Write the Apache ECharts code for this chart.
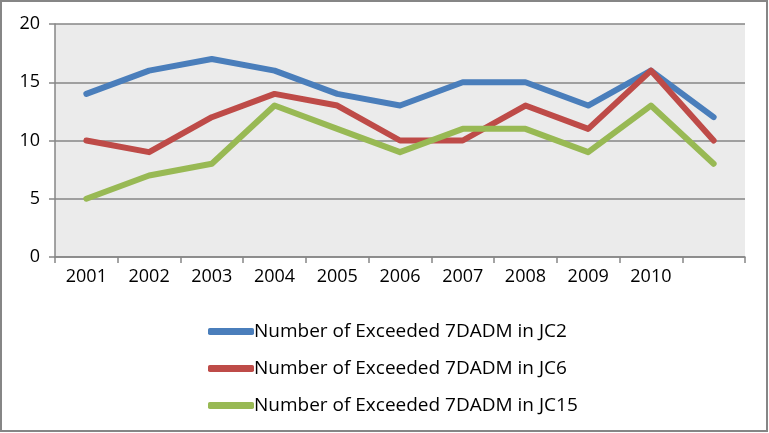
<!DOCTYPE html>
<html><head><meta charset="utf-8">
<script src="https://cdn.jsdelivr.net/npm/echarts@6/dist/echarts.min.js"></script>
<style>html,body{margin:0;padding:0;background:#fff}#c{width:769px;height:433px}</style>
</head><body><div id="c"></div>
<script>
const categories = ['2001','2002','2003','2004','2005','2006','2007','2008','2009','2010',''];
const jc2 = [14,16,17,16,14,13,15,15,13,16,12];
const jc6 = [10,9,12,14,13,10,10,13,11,16,10];
const jc15 = [5,7,8,13,11,9,11,11,9,13,8];
const seriesNames = ['Number of Exceeded 7DADM in JC2','Number of Exceeded 7DADM in JC6','Number of Exceeded 7DADM in JC15'];
const yTicks = [0,5,10,15,20];
const colors = ['#4a7ebb','#be4b48','#98b954'];
const font = '"Open Sans", sans-serif';

const chart = echarts.init(document.getElementById('c'));
const mk = (name, data, i) => ({
  name, type:'line', data, symbol:'none', smooth:false,
  lineStyle:{width:6, color:colors[i], cap:'round', join:'round'},
  itemStyle:{color:colors[i]}
});
chart.setOption({
  animation:false,
  graphic:[{type:'rect', shape:{x:1,y:1,width:766,height:430}, style:{fill:'none', stroke:'#868686', lineWidth:2}, z:100}],
  grid:{left:55,right:24,top:24,bottom:176,show:true,backgroundColor:'#ebebeb',borderWidth:0},
  xAxis:{type:'category', data:categories, boundaryGap:true,
    axisLine:{show:true,lineStyle:{color:'#868686',width:1.5}},
    axisTick:{show:true,length:6,lineStyle:{color:'#868686',width:1.5}},
    axisLabel:{color:'#000',fontSize:18,fontFamily:font,margin:11},
    splitLine:{show:false}},
  yAxis:{type:'value', min:yTicks[0], max:yTicks[yTicks.length-1], interval:5,
    axisLine:{show:true,lineStyle:{color:'#868686',width:1.5}},
    axisTick:{show:true,length:6,lineStyle:{color:'#868686',width:1.5}},
    axisLabel:{color:'#000',fontSize:18,fontFamily:font,margin:15},
    splitLine:{show:true,lineStyle:{color:'#868686',width:1.5}}},
  legend:{orient:'vertical', left:203, top:317, itemWidth:46, itemHeight:7, itemGap:18,
    icon:'roundRect', textStyle:{fontSize:19,fontFamily:font,color:'#000',padding:[0,0,0,-5]},
    data:seriesNames},
  series:[mk(seriesNames[0],jc2,0),mk(seriesNames[1],jc6,1),mk(seriesNames[2],jc15,2)]
});
</script></body></html>
